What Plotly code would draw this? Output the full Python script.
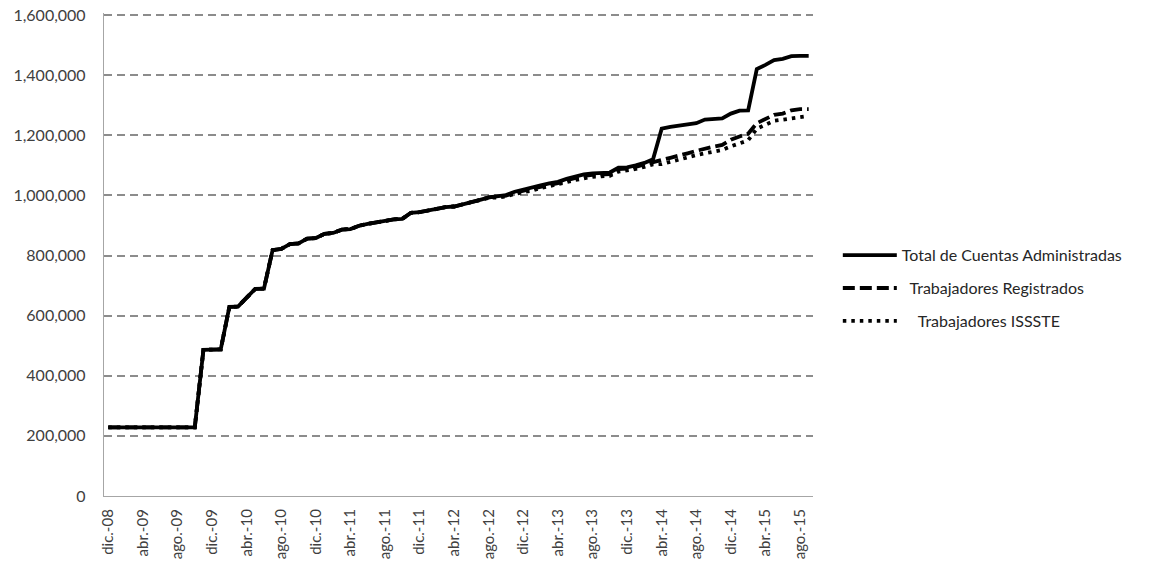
import plotly.graph_objects as go

month_abbr = ["ene.", "feb.", "mar.", "abr.", "may.", "jun.", "jul.", "ago.", "sep.", "oct.", "nov.", "dic."]
# monthly categories: dic.-08 .. sep.-15
months = ["dic.-08"]
for yr in range(9, 16):
    for m in month_abbr:
        months.append(f"{m}-{yr:02d}")
months = months[:82]

tick_labels = months[::4]

total = [
    228000, 228000, 227500, 227500, 227500, 228000, 228000, 228000, 228000, 228000,
    228500, 486000, 486000, 488000, 629000, 630000, 660000, 689000, 690000, 818000,
    822000, 838000, 840000, 856000, 858000, 872000, 875000, 886000, 888000, 899000,
    905000, 911000, 914000, 920000, 922000, 942000, 944000, 950000, 955000, 961000,
    963000, 970000, 975000, 985000, 993000, 998000, 1001000, 1012000, 1018000, 1025000,
    1033000, 1040000, 1045000, 1055000, 1062000, 1070000, 1073000, 1074000, 1076000, 1092000,
    1093000, 1100000, 1108000, 1120000, 1222000, 1228000, 1233000, 1238000, 1240000, 1252000,
    1253000, 1256000, 1272000, 1282000, 1283000, 1420000, 1434000, 1450000, 1454000, 1463000,
    1464000, 1464000,
]

registrados = [
    228000, 228000, 227500, 227500, 227500, 228000, 228000, 228000, 228000, 228000,
    228500, 486000, 486000, 488000, 629000, 630000, 660000, 689000, 690000, 818000,
    822000, 838000, 840000, 856000, 858000, 872000, 875000, 886000, 888000, 899000,
    905000, 911000, 914000, 920000, 922000, 942000, 944000, 950000, 955000, 961000,
    963000, 970000, 975000, 985000, 993000, 996000, 999000, 1009000, 1015000, 1022000,
    1029000, 1036000, 1041000, 1050000, 1057000, 1065000, 1068000, 1069000, 1071000, 1087000,
    1089000, 1095000, 1103000, 1113000, 1118000, 1125000, 1134000, 1140000, 1148000, 1156000,
    1162000, 1168000, 1185000, 1196000, 1205000, 1240000, 1255000, 1268000, 1272000, 1283000,
    1287000, 1287000,
]

issste = [
    228000, 228000, 227500, 227500, 227500, 228000, 228000, 228000, 228000, 228000,
    228500, 486000, 486000, 488000, 629000, 630000, 660000, 689000, 690000, 818000,
    822000, 838000, 840000, 856000, 858000, 872000, 875000, 886000, 888000, 899000,
    905000, 911000, 914000, 920000, 922000, 942000, 944000, 950000, 955000, 961000,
    963000, 970000, 975000, 985000, 992000, 993000, 996000, 1005000, 1010000, 1016000,
    1024000, 1030000, 1035000, 1044000, 1051000, 1058000, 1062000, 1063000, 1065000, 1079000,
    1082000, 1088000, 1095000, 1103000, 1104000, 1112000, 1121000, 1127000, 1134000, 1140000,
    1145000, 1151000, 1163000, 1173000, 1183000, 1222000, 1236000, 1248000, 1252000, 1257000,
    1262000, 1264000,
]

series_names = [
    "Total de Cuentas Administradas",
    "\u00a0\u00a0Trabajadores Registrados",
    "\u00a0\u00a0\u00a0\u00a0Trabajadores ISSSTE",
]

fig = go.Figure()
fig.add_trace(go.Scatter(x=months, y=total, mode="lines", name=series_names[0],
                         legendgroup="a",
                         line=dict(color="#000000", width=3.8)))
fig.add_trace(go.Scatter(x=months, y=registrados, mode="lines", name=series_names[1],
                         legendgroup="b",
                         line=dict(color="#000000", width=3.8, dash="12px,5px")))
fig.add_trace(go.Scatter(x=months, y=issste, mode="lines", name=series_names[2],
                         legendgroup="c",
                         line=dict(color="#000000", width=3.8, dash="3.5px,5px")))

font_family = "Lato, 'Open Sans', sans-serif"

fig.update_layout(
    width=1156, height=569,
    margin=dict(l=104, r=343, t=13, b=73, autoexpand=False),
    paper_bgcolor="white", plot_bgcolor="white",
    font=dict(family=font_family, color="#404040"),
    showlegend=True,
    legend=dict(x=1.035, y=0.43, xanchor="left", yanchor="middle",
                font=dict(size=16, color="#262626", family=font_family),
                itemwidth=54, tracegroupgap=9,
                bgcolor="rgba(0,0,0,0)"),
    xaxis=dict(
        type="category",
        categoryorder="array", categoryarray=months,
        range=[-0.5, 81.5],
        tickmode="array", tickvals=tick_labels, ticktext=tick_labels,
        tickangle=-90,
        tickfont=dict(size=15, color="#404040"),
        showgrid=False, zeroline=False,
        showline=True, linecolor="#a6a6a6", linewidth=1.3,
        ticks="", ticklabelstandoff=6, automargin=False,
    ),
    yaxis=dict(
        range=[0, 1606653],
        tickmode="linear", tick0=0, dtick=200000,
        tickformat=",",
        tickfont=dict(size=16, color="#404040"),
        showgrid=True, gridcolor="#8c8c8c", gridwidth=1.5, griddash="8px,5px",
        zeroline=False,
        showline=True, linecolor="#a6a6a6", linewidth=1.3,
        ticks="", ticklabelstandoff=14, automargin=False,
        ticklabeloverflow="allow",
    ),
)

fig.write_html("out.html", config={"displayModeBar": False},
               post_script="document.body.style.margin='0px';")
